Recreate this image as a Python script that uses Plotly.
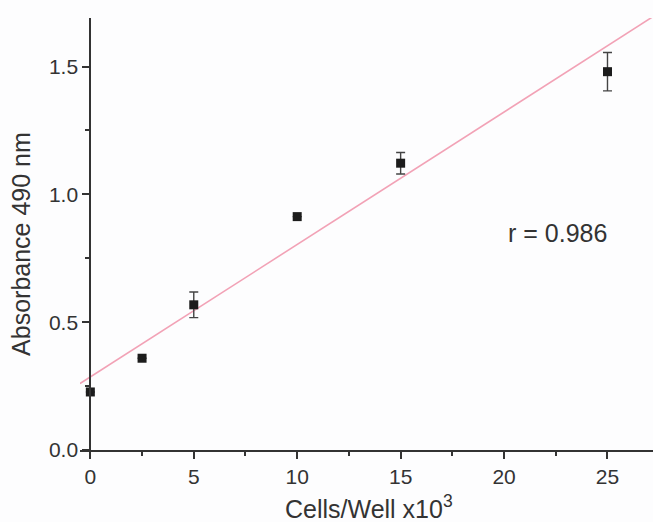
import plotly.graph_objects as go

cells = [0, 2.5, 5, 10, 15, 25]
absorbance = [0.227, 0.359, 0.568, 0.913, 1.122, 1.48]
errors = [0.0, 0.0, 0.05, 0.0, 0.042, 0.075]
fit_x = [-0.5, 27.5]
fit_y = [0.26, 1.711]
r_label = "r = 0.986"
x_title = "Cells/Well x10<sup>3</sup>"
y_title = "Absorbance 490 nm"

x_range = [-0.5, 27.2]
y_range = [0, 1.69]

FONT = "Liberation Sans, Arial"
INK = "#333333"

fig = go.Figure()
fig.add_trace(go.Scatter(x=fit_x, y=fit_y, mode="lines",
                         line=dict(color="#f2a2b6", width=1.6), showlegend=False))
fig.add_trace(go.Scatter(x=cells, y=absorbance, mode="markers",
                         marker=dict(symbol="square", size=9, color="#1c1c1c"),
                         error_y=dict(type="data", array=errors, visible=True,
                                      color="#444444", thickness=1.4, width=4.5),
                         cliponaxis=False, showlegend=False))

fig.add_annotation(x=20.1, y=0.85, text=r_label, showarrow=False,
                   xanchor="left", yanchor="middle",
                   font=dict(size=25, color=INK, family=FONT))

# axis titles placed as paper annotations for exact positions
fig.add_annotation(xref="paper", yref="paper", x=0.504, y=-0.132, text=x_title,
                   showarrow=False, xanchor="center", yanchor="middle",
                   font=dict(size=25, color=INK, family=FONT))
fig.add_annotation(xref="paper", yref="paper", x=-0.103, y=0.477, text=y_title,
                   showarrow=False, xanchor="center", yanchor="middle", textangle=-90,
                   font=dict(size=25, color=INK, family=FONT))

axis_common = dict(showline=True, linecolor=INK, linewidth=2,
                   ticks="outside", tickcolor=INK, tickwidth=2, ticklen=7,
                   showgrid=False, zeroline=False,
                   tickfont=dict(size=21, color=INK, family=FONT))

pos0 = (0 - x_range[0]) / (x_range[1] - x_range[0])

fig.update_layout(
    width=653, height=522,
    margin=dict(l=80, r=0, t=18, b=72),
    paper_bgcolor="#fdfdfe", plot_bgcolor="#fdfdfe",
    xaxis=dict(range=x_range, tickvals=[0, 5, 10, 15, 20, 25],
               minor=dict(tickvals=[2.5, 7.5, 12.5, 17.5, 22.5], ticks="outside",
                          ticklen=4, tickwidth=2, tickcolor=INK),
               **axis_common),
    yaxis=dict(range=y_range, anchor="free", position=pos0,
               tickvals=[0, 0.5, 1.0, 1.5], ticktext=["0.0", "0.5", "1.0", "1.5"],
               minor=dict(tickvals=[0.25, 0.75, 1.25], ticks="outside",
                          ticklen=4, tickwidth=2, tickcolor=INK),
               **axis_common),
)

fig.write_html("out.html")
